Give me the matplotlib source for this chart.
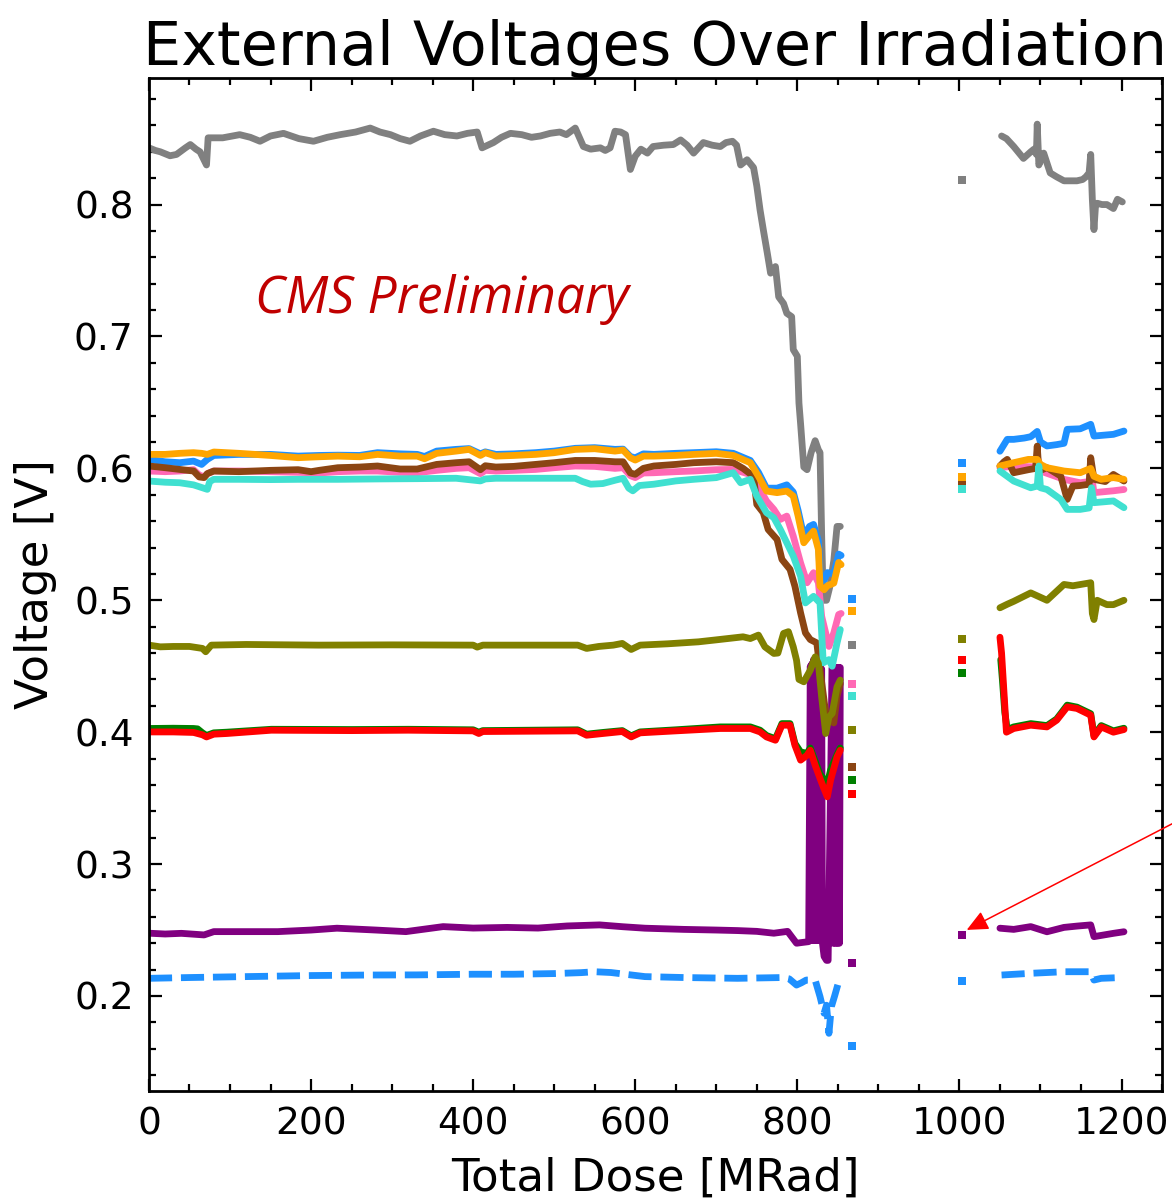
import matplotlib
matplotlib.use("Agg")
import matplotlib.pyplot as plt
from matplotlib.ticker import MultipleLocator

# ---------------- data ----------------
title = "External Voltages Over Irradiation"
xlabel = "Total Dose [MRad]"
ylabel = "Voltage [V]"
note = "CMS Preliminary"

colors = {
    "gray": "#808080", "blue": "#1E90FF", "orange": "#FFA500", "brown": "#8B4513",
    "pink": "#FF69B4", "turquoise": "#40E0D0", "olive": "#808000", "green": "#008000",
    "red": "#FF0000", "purple": "#800080", "blue_dash": "#1E90FF",
}

gray_x = [0, 8, 14, 26, 34, 45, 51, 58, 63, 71, 73, 91, 112, 125, 137, 150, 166, 185, 203, 220, 236, 255, 273,
          285, 298, 310, 322, 335, 351, 365, 380, 393, 405, 411, 418, 425, 435, 446, 460, 472, 483, 495, 507, 515,
          526, 536, 545, 557, 563, 569, 575, 582, 588, 594, 600, 607, 615, 622, 635, 647, 656, 664, 672, 684, 695,
          705, 712, 720, 725, 730, 738, 746, 750, 754, 758, 763, 767, 773, 777, 783, 787, 793, 795, 800, 802, 804,
          808, 812, 817, 822, 826, 828, 830, 832, 836, 840, 845, 849, 853]
gray_y = [0.843, 0.841, 0.840, 0.837, 0.838, 0.843, 0.8455, 0.842, 0.840, 0.830, 0.8506, 0.8506, 0.853, 0.851,
          0.848, 0.852, 0.854, 0.850, 0.848, 0.851, 0.853, 0.855, 0.858, 0.855, 0.853, 0.850, 0.848, 0.852, 0.8556,
          0.853, 0.852, 0.854, 0.855, 0.843, 0.845, 0.847, 0.851, 0.854, 0.853, 0.851, 0.852, 0.854, 0.855, 0.853,
          0.858, 0.844, 0.842, 0.843, 0.841, 0.843, 0.8556, 0.855, 0.853, 0.8266, 0.8367, 0.842, 0.839, 0.844,
          0.845, 0.8455, 0.849, 0.845, 0.839, 0.847, 0.845, 0.844, 0.847, 0.848, 0.845, 0.830, 0.834, 0.828, 0.814,
          0.796, 0.781, 0.763, 0.748, 0.753, 0.730, 0.725, 0.7176, 0.715, 0.690, 0.685, 0.6495, 0.634, 0.601,
          0.599, 0.612, 0.621, 0.614, 0.612, 0.550, 0.500, 0.500, 0.510, 0.530, 0.556, 0.556]

blue_x = [0, 20, 38, 55, 65, 72, 80, 111, 150, 184, 210, 233, 260, 282, 310, 331, 340, 355, 379, 395, 409, 415,
          428, 450, 477, 500, 526, 550, 575, 585, 594, 600, 610, 623, 650, 672, 700, 721, 742, 752, 762, 775, 787,
          795, 801, 808, 815, 820, 826, 828, 833, 837, 845, 851, 854]
blue_y = [0.6068, 0.6050, 0.6043, 0.6055, 0.6030, 0.6068, 0.6098, 0.6106, 0.6106, 0.6093, 0.6098, 0.6100,
          0.6098, 0.6119, 0.6110, 0.6106, 0.6090, 0.6131, 0.6144, 0.6150, 0.6110, 0.6125, 0.6106, 0.6110, 0.6119,
          0.6131, 0.6152, 0.6157, 0.6144, 0.6146, 0.6090, 0.6080, 0.6110, 0.6106, 0.6114, 0.6119, 0.6126, 0.6114,
          0.6060, 0.597, 0.585, 0.585, 0.5875, 0.582, 0.568, 0.5486, 0.556, 0.5575, 0.545, 0.520, 0.515, 0.521,
          0.520, 0.535, 0.534]

orange_x = [0, 20, 38, 55, 65, 72, 80, 111, 150, 184, 210, 233, 260, 282, 310, 331, 340, 355, 379, 395, 409,
            415, 428, 450, 477, 500, 526, 550, 575, 585, 594, 600, 610, 623, 650, 672, 700, 721, 742, 752, 762,
            775, 787, 795, 801, 808, 815, 820, 826, 828, 833, 837, 845, 851, 854]
orange_y = [0.6106, 0.6106, 0.6114, 0.6119, 0.6114, 0.6106, 0.6124, 0.6114, 0.6098, 0.6081, 0.6088, 0.6093,
            0.6088, 0.6106, 0.6093, 0.6093, 0.6073, 0.6114, 0.6131, 0.6144, 0.6098, 0.6119, 0.6093, 0.6098,
            0.6106, 0.6119, 0.6144, 0.6149, 0.6131, 0.6139, 0.6081, 0.6063, 0.6093, 0.6093, 0.6098, 0.6106,
            0.6114, 0.6098, 0.6043, 0.594, 0.5828, 0.5816, 0.5828, 0.579, 0.5638, 0.5436, 0.549, 0.5524, 0.5385,
            0.5107, 0.508, 0.511, 0.513, 0.5287, 0.527]

brown_x = [0, 20, 38, 55, 62, 68, 72, 80, 111, 150, 184, 200, 210, 233, 260, 282, 310, 331, 355, 379, 395, 409,
           415, 428, 450, 477, 500, 526, 550, 575, 585, 594, 600, 610, 623, 650, 672, 700, 721, 733, 746, 750, 758,
           764, 775, 781, 791, 797, 804, 810, 816, 824, 828, 835, 839, 845, 849, 853]
brown_y = [0.6018, 0.6005, 0.5992, 0.5980, 0.5935, 0.5930, 0.5960, 0.5980, 0.5975, 0.5985, 0.5990, 0.5975,
           0.5985, 0.6005, 0.6010, 0.6018, 0.5995, 0.5995, 0.6030, 0.6043, 0.6050, 0.5990, 0.6020, 0.6010,
           0.6015, 0.6030, 0.6043, 0.6060, 0.6060, 0.6050, 0.6050, 0.5965, 0.5955, 0.6000, 0.6018, 0.6030,
           0.6043, 0.6050, 0.6043, 0.6000, 0.5940, 0.5727, 0.5664, 0.5537, 0.5461, 0.5310, 0.5234, 0.5107,
           0.4905, 0.4753, 0.4702, 0.4677, 0.4475, 0.4146, 0.4096, 0.4070, 0.4273, 0.4370]

pink_x = [0, 20, 38, 55, 62, 68, 72, 80, 111, 150, 184, 210, 233, 260, 282, 310, 331, 355, 379, 395, 409, 415,
          428, 450, 477, 500, 526, 550, 575, 585, 594, 600, 610, 623, 650, 672, 700, 721, 742, 754, 762, 771, 779,
          787, 795, 804, 812, 820, 826, 830, 839, 845, 851, 854]
pink_y = [0.5980, 0.5975, 0.5980, 0.5990, 0.5950, 0.5935, 0.5960, 0.5980, 0.5980, 0.5975, 0.5970, 0.5965,
          0.5975, 0.5980, 0.5980, 0.5970, 0.5967, 0.5985, 0.6000, 0.6005, 0.5960, 0.5985, 0.5980, 0.5985,
          0.5992, 0.6005, 0.6018, 0.6015, 0.6000, 0.6005, 0.5945, 0.5930, 0.5965, 0.5967, 0.5975, 0.5980,
          0.5990, 0.5992, 0.5954, 0.5840, 0.5752, 0.5689, 0.5613, 0.5638, 0.5486, 0.5284, 0.5133, 0.5209,
          0.5133, 0.4879, 0.4650, 0.4753, 0.4892, 0.4900]

turq_x = [0, 20, 38, 55, 65, 72, 75, 80, 111, 150, 184, 233, 282, 331, 379, 409, 415, 428, 477, 526, 535, 545,
          560, 575, 585, 592, 597, 605, 623, 650, 672, 700, 721, 730, 742, 750, 762, 771, 779, 787, 795, 804, 810,
          820, 828, 832, 839, 843, 849, 853]
turq_y = [0.5904, 0.5895, 0.5891, 0.5875, 0.5855, 0.5841, 0.5900, 0.5917, 0.5917, 0.5915, 0.5917, 0.5917,
          0.5920, 0.5922, 0.5925, 0.5905, 0.5920, 0.5925, 0.5925, 0.5925, 0.5900, 0.5880, 0.5885, 0.5910,
          0.5925, 0.5850, 0.5830, 0.5870, 0.5880, 0.5905, 0.5917, 0.5930, 0.5967, 0.5891, 0.5917, 0.5790,
          0.5664, 0.5626, 0.5537, 0.5436, 0.5335, 0.5183, 0.4980, 0.5030, 0.4980, 0.4526, 0.4550, 0.4500,
          0.4677, 0.4778]

olive_x = [0, 14, 30, 50, 66, 70, 77, 120, 209, 300, 400, 405, 412, 529, 540, 555, 573, 584, 595, 606, 640, 678,
           700, 733, 742, 752, 760, 771, 776, 783, 789, 795, 799, 802, 808, 816, 822, 826, 830, 835, 839, 843, 849,
           853]
olive_y = [0.4660, 0.4647, 0.4650, 0.4650, 0.4635, 0.4610, 0.4660, 0.4665, 0.4660, 0.4662, 0.4660, 0.4645,
           0.4660, 0.4660, 0.4635, 0.4650, 0.4660, 0.4673, 0.4627, 0.4660, 0.4670, 0.4685, 0.4700, 0.4723,
           0.4710, 0.4736, 0.4647, 0.4597, 0.4600, 0.4749, 0.4762, 0.4647, 0.4546, 0.4400, 0.4382, 0.4470,
           0.4571, 0.4521, 0.4268, 0.3990, 0.4116, 0.4142, 0.4344, 0.4395]

green_x = [0, 30, 55, 60, 66, 71, 80, 96, 151, 250, 320, 400, 407, 412, 529, 540, 560, 584, 595, 606, 650, 705,
           742, 754, 762, 773, 781, 791, 797, 804, 812, 816, 822, 828, 832, 837, 841, 849, 853]
green_y = [0.4028, 0.4030, 0.4028, 0.4025, 0.3995, 0.3975, 0.3995, 0.4000, 0.4022, 0.4020, 0.4022, 0.4018,
           0.4000, 0.4012, 0.4018, 0.3985, 0.3998, 0.4012, 0.3972, 0.4002, 0.4018, 0.4040, 0.4040, 0.4015,
           0.3975, 0.3950, 0.4065, 0.4065, 0.3915, 0.3850, 0.3840, 0.3880, 0.3780, 0.3680, 0.3650, 0.3610,
           0.3712, 0.3830, 0.3880]

red_x = [0, 30, 55, 66, 71, 80, 96, 151, 250, 320, 400, 407, 412, 529, 540, 560, 584, 595, 606, 650, 705, 742,
         754, 762, 773, 781, 791, 797, 804, 812, 816, 822, 828, 832, 837, 841, 849, 853]
red_y = [0.4002, 0.4002, 0.3998, 0.3980, 0.3964, 0.3985, 0.3990, 0.4015, 0.4012, 0.4015, 0.4010, 0.3990,
         0.4005, 0.4010, 0.3977, 0.3990, 0.4005, 0.3964, 0.3995, 0.4010, 0.4028, 0.4028, 0.4002, 0.3964,
         0.3939, 0.4053, 0.4053, 0.3901, 0.3788, 0.3825, 0.3863, 0.3750, 0.3650, 0.3585, 0.3510, 0.3636,
         0.3813, 0.3863]

purple_x = [0, 20, 40, 68, 80, 159, 200, 232, 280, 317, 363, 400, 442, 480, 516, 556, 585, 612, 660, 700, 726,
            750, 771, 788, 799, 805, 814, 816, 817, 818, 819, 820, 821, 822, 823, 824, 825, 826, 827, 828, 829,
            830, 831, 833, 836, 838, 843, 844, 845, 846, 847, 848, 849, 850, 851, 852, 853]
purple_y = [0.2476, 0.2470, 0.2475, 0.2463, 0.2488, 0.2488, 0.2500, 0.2514, 0.2500, 0.2488, 0.2526, 0.2515,
            0.2520, 0.2515, 0.2531, 0.2539, 0.2525, 0.2514, 0.2505, 0.2500, 0.2496, 0.2490, 0.2476, 0.2490,
            0.2400, 0.2405, 0.2412, 0.450, 0.242, 0.452, 0.242, 0.455, 0.242, 0.455, 0.242, 0.452, 0.242,
            0.452, 0.242, 0.450, 0.242, 0.448, 0.240, 0.230, 0.227, 0.227, 0.449, 0.240, 0.449, 0.240, 0.449,
            0.240, 0.449, 0.240, 0.449, 0.240, 0.449]

bdash_x = [0, 50, 100, 150, 200, 272, 330, 400, 450, 500, 533, 550, 570, 612, 660, 726, 782, 790, 799, 805, 811,
           822, 828, 833, 836, 839, 842, 846, 851]
bdash_y = [0.2134, 0.2140, 0.2145, 0.2150, 0.2155, 0.2159, 0.2160, 0.2165, 0.2165, 0.2170, 0.2177, 0.2184,
           0.2178, 0.2147, 0.2140, 0.2134, 0.2140, 0.2130, 0.2083, 0.2100, 0.2121, 0.2121, 0.1995, 0.1869,
           0.1930, 0.1717, 0.1919, 0.2000, 0.2108]

# isolated readings at ~868 and ~1003 MRad
point_x = [868, 1003]
gray_pts = [0.466, 0.819]
blue_pts = [0.5008, 0.604]
orange_pts = [0.4917, 0.5934]
brown_pts = [0.3735, 0.5886]
pink_pts = [0.4367, 0.5915]
turq_pts = [0.4276, 0.584]
olive_pts = [0.4015, 0.4707]
green_pts = [0.364, 0.4446]
red_pts = [0.3535, 0.455]
purple_pts = [0.2248, 0.2463]
bdash_pts = [0.1623, 0.2114]

# late segment (after the gap)
gray_rx = [1052, 1058, 1067, 1079, 1088, 1092, 1095, 1096, 1098, 1104, 1112, 1120, 1129, 1138, 1145, 1152, 1156,
           1160, 1162, 1164, 1166, 1168, 1170, 1176, 1182, 1190, 1195, 1201]
gray_ry = [0.852, 0.850, 0.844, 0.835, 0.840, 0.842, 0.838, 0.861, 0.830, 0.839, 0.824, 0.821, 0.818, 0.818,
           0.818, 0.819, 0.821, 0.824, 0.838, 0.804, 0.781, 0.800, 0.801, 0.800, 0.800, 0.797, 0.804, 0.802]
blue_rx = [1050, 1053, 1059, 1067, 1080, 1088, 1096, 1100, 1108, 1120, 1129, 1133, 1149, 1162, 1166, 1175, 1190,
           1203]
blue_ry = [0.613, 0.616, 0.622, 0.622, 0.623, 0.624, 0.628, 0.620, 0.617, 0.618, 0.619, 0.6296, 0.630, 0.6334,
           0.6245, 0.625, 0.6258, 0.6283]
orange_rx = [1050, 1067, 1085, 1096, 1100, 1108, 1129, 1149, 1162, 1166, 1175, 1190, 1203]
orange_ry = [0.6018, 0.6043, 0.6068, 0.6068, 0.603, 0.6005, 0.598, 0.5967, 0.600, 0.594, 0.5917, 0.593, 0.5917]
brown_rx = [1050, 1055, 1059, 1067, 1085, 1094, 1096, 1098, 1108, 1125, 1133, 1140, 1149, 1160, 1162, 1166,
            1180, 1190, 1203]
brown_ry = [0.6018, 0.6050, 0.6068, 0.5967, 0.5990, 0.6000, 0.6169, 0.5980, 0.6005, 0.5942, 0.5765, 0.5866,
            0.5870, 0.5880, 0.6081, 0.5917, 0.5900, 0.5954, 0.5904]
pink_rx = [1050, 1067, 1094, 1096, 1100, 1129, 1149, 1160, 1162, 1166, 1190, 1203]
pink_ry = [0.6005, 0.6018, 0.6010, 0.6093, 0.5980, 0.5917, 0.5891, 0.5900, 0.5992, 0.5816, 0.5830, 0.5840]
turq_rx = [1050, 1067, 1088, 1096, 1098, 1100, 1108, 1125, 1133, 1149, 1160, 1163, 1166, 1190, 1203]
turq_ry = [0.598, 0.5904, 0.5853, 0.5866, 0.6018, 0.5853, 0.584, 0.5765, 0.5689, 0.5689, 0.5700, 0.5853,
           0.574, 0.5753, 0.5702]
olive_rx = [1050, 1059, 1067, 1088, 1108, 1129, 1140, 1162, 1164, 1166, 1170, 1182, 1190, 1203]
olive_ry = [0.4943, 0.4970, 0.4992, 0.5056, 0.500, 0.512, 0.511, 0.5133, 0.490, 0.4854, 0.500, 0.4967, 0.4967,
            0.500]
green_rx = [1051, 1053, 1056, 1059, 1067, 1088, 1108, 1120, 1133, 1145, 1162, 1166, 1175, 1190, 1203]
green_ry = [0.455, 0.440, 0.415, 0.402, 0.4040, 0.4065, 0.4050, 0.4100, 0.4205, 0.4190, 0.4140, 0.3975,
            0.4050, 0.4010, 0.4030]
red_rx = [1050, 1052, 1055, 1058, 1067, 1088, 1108, 1120, 1133, 1145, 1162, 1166, 1175, 1190, 1203]
red_ry = [0.472, 0.460, 0.430, 0.400, 0.4028, 0.4053, 0.4040, 0.4091, 0.4192, 0.4180, 0.4129, 0.3964, 0.4040,
          0.4000, 0.4020]
purple_rx = [1050, 1067, 1088, 1108, 1129, 1145, 1162, 1166, 1190, 1203]
purple_ry = [0.2514, 0.2505, 0.2526, 0.2487, 0.2520, 0.2530, 0.2539, 0.2450, 0.2475, 0.2487]
bdash_rx = [1052, 1088, 1129, 1162, 1166, 1175, 1200]
bdash_ry = [0.2159, 0.2172, 0.2184, 0.2184, 0.2121, 0.2134, 0.2140]

arrow_tail = (1267, 0.332)
arrow_tip = (1009, 0.2501)

# ---------------- figure ----------------
fig = plt.figure(figsize=(11.72, 11.99), dpi=100)
ax = fig.add_axes([0.1271, 0.0901, 0.8644, 0.8449])

series = [
    ("purple", purple_x, purple_y, purple_pts, purple_rx, purple_ry, "-"),
    ("blue_dash", bdash_x, bdash_y, bdash_pts, bdash_rx, bdash_ry, "--"),
    ("gray", gray_x, gray_y, gray_pts, gray_rx, gray_ry, "-"),
    ("blue", blue_x, blue_y, blue_pts, blue_rx, blue_ry, "-"),
    ("pink", pink_x, pink_y, pink_pts, pink_rx, pink_ry, "-"),
    ("brown", brown_x, brown_y, brown_pts, brown_rx, brown_ry, "-"),
    ("orange", orange_x, orange_y, orange_pts, orange_rx, orange_ry, "-"),
    ("turquoise", turq_x, turq_y, turq_pts, turq_rx, turq_ry, "-"),
    ("olive", olive_x, olive_y, olive_pts, olive_rx, olive_ry, "-"),
    ("green", green_x, green_y, green_pts, green_rx, green_ry, "-"),
    ("red", red_x, red_y, red_pts, red_rx, red_ry, "-"),
]

LW = 4.9
for name, x, y, pts, rx, ry, ls in series:
    c = colors[name]
    for xs, ys in ((x, y), (rx, ry)):
        line, = ax.plot(xs, ys, ls, color=c, lw=LW, solid_joinstyle="round", solid_capstyle="round",
                        dash_capstyle="butt")
        if ls == "--":
            line.set_dashes((3.4, 1.3))
    ax.plot(point_x, pts, "s", color=c, ms=6.3, mew=0)

ax.set_xlim(0, 1250)
ax.set_ylim(0.128, 0.896)
ax.xaxis.set_major_locator(MultipleLocator(200))
ax.xaxis.set_minor_locator(MultipleLocator(50))
ax.yaxis.set_major_locator(MultipleLocator(0.1))
ax.yaxis.set_minor_locator(MultipleLocator(0.02))
ax.tick_params(which="both", direction="in", top=True, right=True, width=1.6, labelsize=27, pad=11)
ax.tick_params(which="major", length=9)
ax.tick_params(which="minor", length=5)
for s in ax.spines.values():
    s.set_linewidth(2)

ax.set_title(title, fontsize=43.6, pad=5)
ax.set_xlabel(xlabel, fontsize=32.5)
ax.set_ylabel(ylabel, fontsize=32.5)
ax.xaxis.set_label_coords(0.5, -0.065)
ax.yaxis.set_label_coords(-0.091, 0.5)

ax.text(131, 0.718, note, color="#C00000", fontsize=37, style="italic",
        family=["Open Sans", "DejaVu Sans"], ha="left", va="baseline")

ax.annotate("", xy=arrow_tip, xytext=arrow_tail, xycoords="data", textcoords="data",
            annotation_clip=False,
            arrowprops=dict(arrowstyle="-|>,head_length=0.65,head_width=0.3", color="red", lw=1.1,
                            mutation_scale=20, shrinkA=0, shrinkB=0))

fig.savefig("out.png", dpi=100)
